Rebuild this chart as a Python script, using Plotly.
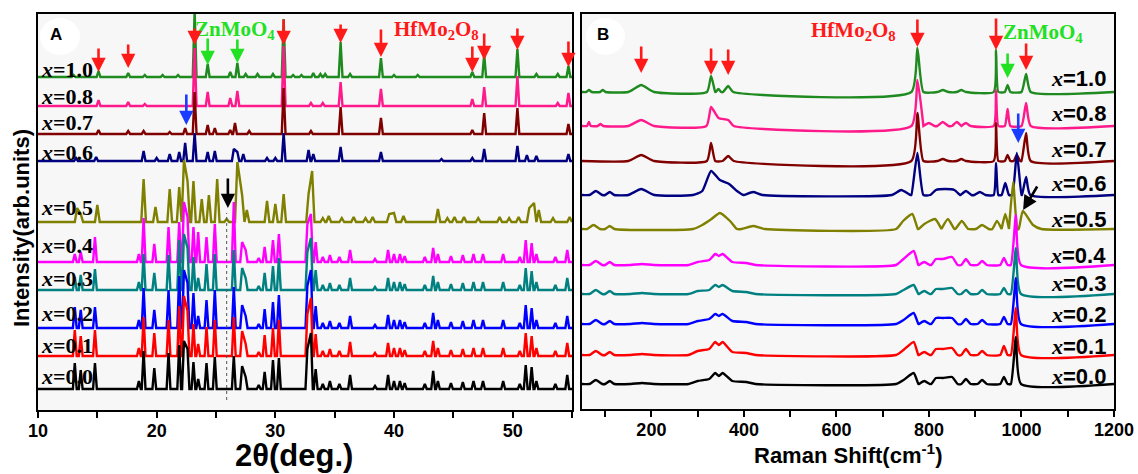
import plotly.graph_objects as go

# ---------------- XRD data (2theta, relative intensity) ----------------
ZN_POS = [13.1, 13.6, 14.8, 18.5, 18.9, 19.8, 21.0, 21.9, 22.3, 22.6, 23.1, 23.5, 24.2, 24.9, 26.5,
          27.2, 27.5, 28.6, 29.1, 29.8, 30.3, 32.7, 33.0, 33.4, 34.0, 34.6, 35.4, 36.3, 38.4, 39.5,
          40.0, 40.5, 40.9, 42.6, 43.3, 43.7, 44.8, 45.8, 46.7, 47.5, 49.2, 50.6, 51.1, 51.6, 52.0,
          53.6, 54.6]
XRD_H_00 = [26, 19, 26, 8, 38, 21, 36, 44, 48, 40, 27, 10, 26, 32, 33, 23, 12, 4, 17, 29, 31, 40, 56, 20, 5,
            8, 5, 14, 3, 14, 8, 8, 6, 5, 18, 8, 6, 7, 8, 8, 8, 5, 24, 22, 8, 5, 14]
XRD_H_01 = [26, 20, 26, 8, 39, 23, 36, 50, 60, 45, 32, 12, 29, 36, 39, 25, 12, 4, 21, 28, 36, 42, 58, 22, 5,
            7, 5, 14, 3, 13, 8, 8, 6, 5, 15, 8, 6, 7, 8, 8, 8, 5, 23, 20, 8, 5, 13]
XRD_H_02 = [21, 18, 21, 8, 40, 18, 38, 52, 58, 45, 35, 12, 28, 38, 41, 23, 12, 4, 19, 26, 33, 42, 58, 22, 5,
            7, 5, 12, 3, 13, 8, 8, 6, 5, 15, 8, 6, 7, 8, 8, 8, 5, 23, 20, 8, 5, 12]
XRD_H_03 = [13, 15, 21, 8, 36, 17, 35, 50, 56, 42, 33, 12, 26, 36, 40, 22, 12, 4, 17, 24, 32, 38, 52, 20, 5,
            7, 5, 12, 3, 12, 8, 8, 6, 5, 14, 8, 6, 7, 8, 8, 8, 5, 22, 19, 8, 5, 12]
XRD_H_04 = [8, 10, 25, 8, 44, 18, 35, 40, 60, 45, 35, 30, 25, 38, 60, 20, 12, 4, 15, 22, 28, 38, 48, 20, 5,
            7, 5, 12, 3, 12, 8, 8, 6, 5, 14, 8, 6, 7, 8, 8, 8, 5, 22, 19, 8, 5, 12]

XRD_POS_05 = [13.3, 13.6, 15.0, 18.9, 19.9, 21.1, 21.9, 22.3, 22.6, 23.1, 23.8, 24.4, 25.1, 25.9, 26.8,
              27.2, 27.6, 29.3, 30.0, 30.7, 32.8, 33.1, 34.0, 34.5, 35.6, 36.6, 37.6, 38.2, 39.6, 40.0,
              40.8, 43.7, 44.5, 45.1, 45.9, 47.1, 48.9, 49.7, 50.5, 51.4, 51.8, 52.2, 53.4, 54.8]
XRD_H_05 = [14, 8, 17, 43, 15, 33, 35, 62, 41, 41, 23, 27, 43, 3, 60, 27, 12, 21, 18, 28, 28, 51, 4, 6, 4,
            5, 4, 5, 8, 9, 6, 13, 4, 5, 5, 4, 5, 4, 5, 14, 19, 12, 4, 5]

XRD_POS_06 = [13.2, 14.9, 18.9, 20.0, 21.1, 21.9, 22.4, 23.2, 24.3, 24.9, 26.5, 26.8, 27.3, 29.3, 30.0,
              30.7, 32.8, 33.2, 35.5, 38.9, 44.0, 46.6, 47.6, 50.4, 51.2, 52.0, 54.7]
XRD_H_06 = [3, 4, 10, 3, 7, 9, 18, 28, 9, 10, 12, 9, 7, 3, 3, 28, 11, 7, 14, 9, 2, 3, 12, 15, 6, 5, 7]

XRD_POS_07 = [15.1, 17.6, 18.9, 21.1, 22.4, 23.2, 24.3, 24.9, 26.2, 26.6, 27.8, 30.7, 33.0, 35.5, 38.9,
              46.6, 47.6, 50.4, 54.7]
XRD_H_07 = [4, 3, 3, 2, 6, 42, 9, 6, 4, 11, 3, 46, 3, 27, 16, 4, 21, 26, 10]

XRD_POS_08 = [15.1, 17.6, 19.0, 23.2, 24.3, 26.2, 26.8, 30.7, 33.0, 34.0, 35.5, 38.9, 46.6, 47.6, 50.4,
              53.8, 54.7]
XRD_H_08 = [6, 4, 2, 58, 14, 8, 15, 60, 3, 3, 24, 17, 7, 19, 30, 3, 13]

XRD_POS_10 = [13.0, 15.1, 17.6, 19.0, 20.5, 21.8, 23.2, 24.3, 26.2, 26.8, 27.5, 28.5, 29.8, 30.7, 31.5,
              32.2, 33.2, 33.8, 34.2, 35.5, 36.3, 38.9, 40.0, 42.0, 46.6, 47.6, 50.4, 52.0, 53.8, 54.7]
XRD_H_10 = [2, 6, 4, 2, 2, 2, 66, 13, 5, 14, 3, 3, 3, 58, 2, 2, 4, 3, 3, 35, 3, 19, 2, 2, 5, 23, 28, 3, 3, 11]

# ---------------- Raman data (shift cm-1, intensity, half-width) ----------------
RM_LOW_POS = [80, 110, 180, 300, 325, 338, 346, 354, 375, 405, 745, 767, 790, 815, 830, 850, 880, 915, 962, 988]
RM_LOW_W = [14, 10, 25, 20, 14, 12, 4, 12, 14, 20, 16, 10, 12, 10, 10, 12, 10, 10, 8, 11]
RM_H_00 = [4, 3, 1, 3, 5, 11, 8, 11, 3, 2, 4, 11, 3, 6, 6, 7, 5, 4, 7, 47]
RM_H_01 = [4, 3, 1, 4, 6, 13, 10, 13, 3, 2, 5, 13, 3, 6, 6, 7, 6, 4, 9, 47]
RM_H_02 = [4, 3, 1, 3, 5, 10, 8, 10, 3, 2, 4, 11, 3, 6, 6, 6, 5, 4, 7, 46]
RM_H_03 = [4, 3, 1, 3, 4, 9, 7, 9, 3, 2, 4, 9, 3, 5, 5, 6, 4, 4, 6, 46]
RM_H_04 = [4, 3, 1, 3, 5, 11, 9, 11, 3, 2, 6, 14, 3, 6, 6, 8, 6, 4, 7, 50]

RM_POS_05 = [75, 110, 310, 330, 348, 370, 420, 744, 764, 790, 813, 841, 871, 915, 947, 965, 982, 1003, 1025]
RM_H_05 = [4, 3, 4, 10, 16, 8, 3, 8, 15, 5, 10, 10, 8, 4, 8, 15, 47, 18, 4]
RM_W_05 = [14, 10, 20, 15, 15, 15, 25, 15, 12, 12, 14, 14, 14, 14, 10, 8, 9, 9, 18]

RM_POS_06 = [80, 110, 178, 310, 329, 348, 368, 385, 420, 740, 775, 815, 835, 855, 880, 910, 945, 965, 990, 1010]
RM_H_06 = [4, 3, 6, 4, 24, 15, 11, 4, 3, 5, 42, 5, 6, 5, 4, 3, 32, 12, 42, 18]
RM_W_06 = [14, 10, 28, 20, 12, 12, 12, 14, 20, 20, 13, 12, 12, 12, 12, 12, 5, 8, 10, 9]

RM_POS_07 = [178, 329, 366, 775, 830, 870, 945, 970, 990, 1010]
RM_H_07 = [6, 18, 5, 48, 2, 2, 38, 6, 6, 28]
RM_W_07 = [28, 9, 12, 13, 12, 10, 5, 6, 7, 10]

RM_POS_08 = [65, 90, 178, 329, 345, 366, 775, 800, 830, 860, 880, 945, 970, 1010]
RM_H_08 = [4, 2, 6, 19, 8, 6, 46, 3, 4, 4, 3, 36, 17, 23]
RM_W_08 = [4, 6, 28, 10, 12, 12, 13, 12, 12, 10, 10, 5, 6, 10]

RM_POS_10 = [65, 95, 178, 329, 345, 366, 775, 830, 870, 945, 970, 1010]
RM_H_10 = [2, 2, 7, 16, 3, 6, 44, 2, 2, 42, 7, 18]
RM_W_10 = [6, 6, 28, 9, 6, 11, 13, 12, 10, 5, 6, 10]

LABELS = ["x=1.0", "x=0.8", "x=0.7", "x=0.6", "x=0.5", "x=0.4", "x=0.3", "x=0.2", "x=0.1", "x=0.0"]
COLORS = ["#1f8a1f", "#ff1a8c", "#800000", "#000080", "#808000", "#ff00ff", "#008080", "#0000ff", "#ff0000", "#000000"]

XRD_SETS = [(XRD_POS_10, XRD_H_10), (XRD_POS_08, XRD_H_08), (XRD_POS_07, XRD_H_07), (XRD_POS_06, XRD_H_06),
            (XRD_POS_05, XRD_H_05), (ZN_POS, XRD_H_04), (ZN_POS, XRD_H_03), (ZN_POS, XRD_H_02),
            (ZN_POS, XRD_H_01), (ZN_POS, XRD_H_00)]
RM_SETS = [(RM_POS_10, RM_H_10, RM_W_10), (RM_POS_08, RM_H_08, RM_W_08), (RM_POS_07, RM_H_07, RM_W_07),
           (RM_POS_06, RM_H_06, RM_W_06), (RM_POS_05, RM_H_05, RM_W_05),
           (RM_LOW_POS, RM_H_04, RM_LOW_W), (RM_LOW_POS, RM_H_03, RM_LOW_W), (RM_LOW_POS, RM_H_02, RM_LOW_W),
           (RM_LOW_POS, RM_H_01, RM_LOW_W), (RM_LOW_POS, RM_H_00, RM_LOW_W)]

# stacking offsets (layout)
XRD_OFF = [333, 304, 276, 249, 188, 148, 120, 82, 54, 21]
RM_OFF = [317, 283, 248, 214, 180, 144, 115, 85, 54, 25]


def stick_profile(pos, hts, wid, lo, hi, off):
    pts = []
    for i, (p, h, w) in enumerate(zip(pos, hts, wid)):
        pts.append((p, h))
        for b in (p - w, p + w):
            inside = any(abs(b - q) < v for j, (q, v) in enumerate(zip(pos, wid)) if j != i)
            if not inside:
                pts.append((b, 0))
    pts += [(lo, 0), (hi, 0)]
    pts.sort()
    return [a for a, _ in pts], [b + off for _, b in pts]


fig = go.Figure()
for k, (pos, hts) in enumerate(XRD_SETS):
    xs, ys = stick_profile(pos, hts, [0.2 if k == 4 else 0.16] * len(pos), 10, 55, XRD_OFF[k])
    fig.add_trace(go.Scatter(x=xs, y=ys, mode="lines", line=dict(color=COLORS[k], width=2.4),
                             xaxis="x", yaxis="y", showlegend=False, hoverinfo="skip"))
for k, (pos, hts, wid) in enumerate(RM_SETS):
    xs, ys = stick_profile(pos, hts, wid, 50, 1200, RM_OFF[k])
    fig.add_trace(go.Scatter(x=xs, y=ys, mode="lines",
                             line=dict(color=COLORS[k], width=2.4, shape="spline", smoothing=0.5),
                             xaxis="x2", yaxis="y2", showlegend=False, hoverinfo="skip"))

W, H = 1138, 474
tickfont = dict(family="Liberation Sans", size=18, color="black", weight="bold")
common_x = dict(showline=True, mirror=True, linecolor="black", linewidth=2, showgrid=False, zeroline=False,
                ticks="", tickfont=tickfont, automargin=False, ticklabelstandoff=3)
common_y = dict(showline=True, mirror=True, linecolor="black", linewidth=2, showgrid=False, zeroline=False,
                ticks="", showticklabels=False, automargin=False)

fig.update_layout(
    width=W, height=H, autosize=False,
    margin=dict(l=0, r=0, t=0, b=0, pad=0, autoexpand=False),
    paper_bgcolor="white", plot_bgcolor="#f7f7f7",
    xaxis=dict(domain=[38 / W, 572 / W], range=[10, 55], tickvals=[10, 20, 30, 40, 50], anchor="y",
               minor=dict(ticks="outside", tick0=10, dtick=5, ticklen=6, tickwidth=2, tickcolor="black"),
               **common_x),
    yaxis=dict(domain=[1 - 410 / H, 1 - 14 / H], range=[0, 396], anchor="x", **common_y),
    xaxis2=dict(domain=[582 / W, 1114 / W], range=[50, 1200], tickvals=[200, 400, 600, 800, 1000, 1200],
                anchor="y2",
                minor=dict(ticks="outside", tick0=0, dtick=100, ticklen=6, tickwidth=2, tickcolor="black"),
                **common_x),
    yaxis2=dict(domain=[1 - 409 / H, 1 - 14 / H], range=[0, 395], anchor="x2", **common_y),
)

ann = []
serif = "Liberation Serif"
sans = "Liberation Sans"

# stacked labels
XRD_LAB_Y = [340, 313, 287, 258, 203, 165, 132, 97, 65, 34]
RM_LAB_Y = [330, 295, 260, 226, 190, 154, 126, 95, 63, 33]
for k, lab in enumerate(LABELS):
    val = lab.split("=")[1]
    ann.append(dict(x=10.1, y=XRD_LAB_Y[k], xref="x", yref="y", xanchor="left", yanchor="middle",
                    text="<i>x</i>=" + val, showarrow=False,
                    font=dict(family=serif, size=22, color="black", weight="bold")))
    ann.append(dict(x=1186, y=RM_LAB_Y[k], xref="x2", yref="y2", xanchor="right", yanchor="middle",
                    text="<span style='font-family:Liberation Serif'><i>x</i></span>=" + val, showarrow=False,
                    font=dict(family=sans, size=22, color="black", weight="bold")))

RED = "#ff1a1a"
GREEN = "#22e022"

# phase names
for x, y, xr, yr, txt, col in [(26.6, 380, "x", "y", "ZnMoO<sub>4</sub>", GREEN),
                               (43.6, 380, "x", "y", "HfMo<sub>2</sub>O<sub>8</sub>", RED),
                               (636, 378, "x2", "y2", "HfMo<sub>2</sub>O<sub>8</sub>", RED),
                               (1047, 376, "x2", "y2", "ZnMoO<sub>4</sub>", GREEN)]:
    ann.append(dict(x=x, y=y, xref=xr, yref=yr, text=txt, showarrow=False, xanchor="center", yanchor="middle",
                    font=dict(family=serif, size=21, color=col, weight="bold")))


def arrow(x, y, length, color, xr, yr, ax=0):
    return dict(x=x, y=y, xref=xr, yref=yr, ax=ax, ay=-length, text="", showarrow=True,
                arrowhead=2, arrowsize=1.1, arrowwidth=2.6, arrowcolor=color, standoff=0)


for x, y, L in [(15.1, 338, 25), (17.6, 342, 25), (23.2, 365, 18), (30.7, 365, 27), (35.5, 367, 20),
                (38.9, 353, 29), (46.6, 338, 27), (47.6, 350, 28), (50.4, 360, 23), (54.7, 343, 27)]:
    ann.append(arrow(x, y, L, RED, "x", "y"))
for x, y, L in [(24.3, 345, 28), (26.8, 347, 25)]:
    ann.append(arrow(x, y, L, GREEN, "x", "y"))
ann.append(arrow(22.5, 285, 32, "#1a3cff", "x", "y"))
ann.append(arrow(26.0, 202, 31, "black", "x", "y"))

for x, y, L in [(178, 336, 28), (329, 334, 28), (366, 334, 27), (775, 362, 29), (945, 359, 33), (1010, 339, 28)]:
    ann.append(arrow(x, y, L, RED, "x2", "y2"))
ann.append(arrow(970, 331, 26, GREEN, "x2", "y2"))
ann.append(arrow(993, 266, 31, "#1a3cff", "x2", "y2"))
ann.append(arrow(1003.5, 199, 25, "black", "x2", "y2", ax=15))

# panel letters
for x, txt in [(56, "A"), (603, "B")]:
    ann.append(dict(x=x / W, y=1 - 35 / H, xref="paper", yref="paper", text=txt, showarrow=False,
                    xanchor="center", yanchor="middle",
                    font=dict(family=sans, size=17, color="black", weight="bold")))

# axis titles
ann.append(dict(x=21 / W, y=1 - 228 / H, xref="paper", yref="paper", text="Intensity(arb.units)",
                textangle=-90, showarrow=False, xanchor="center", yanchor="middle",
                font=dict(family=sans, size=22, color="black", weight="bold")))
ann.append(dict(x=294 / W, y=1 - 455 / H, xref="paper", yref="paper", text="2θ(deg.)", showarrow=False,
                xanchor="center", yanchor="middle",
                font=dict(family=sans, size=31, color="black", weight="bold")))
ann.append(dict(x=848 / W, y=1 - 454 / H, xref="paper", yref="paper", text="Raman Shift(cm<sup>-1</sup>)",
                showarrow=False, xanchor="center", yanchor="middle",
                font=dict(family=sans, size=22, color="black", weight="bold")))

fig.update_layout(annotations=ann)

fig.update_layout(shapes=[
    dict(type="circle", xref="paper", yref="paper", x0=40 / W, x1=80 / W, y0=1 - 55 / H, y1=1 - 18 / H,
         fillcolor="white", line=dict(width=0), layer="above"),
    dict(type="circle", xref="paper", yref="paper", x0=586 / W, x1=625 / W, y0=1 - 55 / H, y1=1 - 18 / H,
         fillcolor="white", line=dict(width=0), layer="above"),
    dict(type="line", xref="x", yref="y", x0=25.9, x1=25.9, y0=10, y1=197,
         line=dict(color="#555555", width=1, dash="dot")),
])

fig.write_html("out.html", config={"displayModeBar": False},
               post_script="document.body.style.margin='0';document.body.style.overflow='hidden';")
